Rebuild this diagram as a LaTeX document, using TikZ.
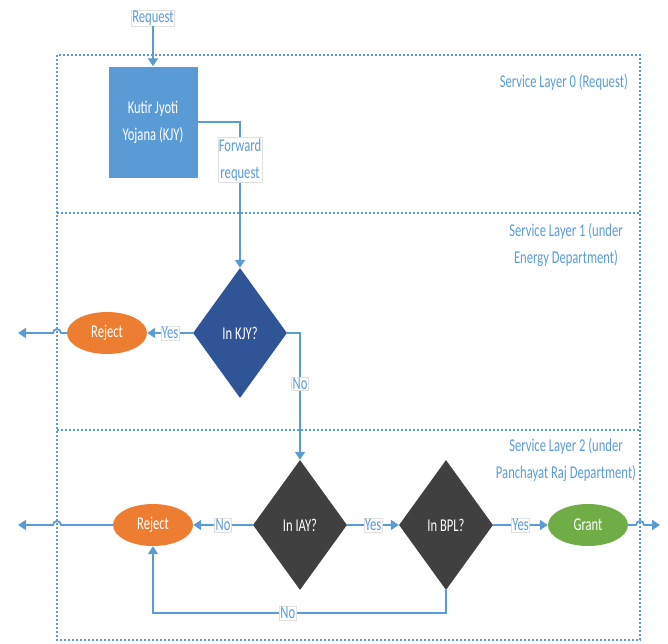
\documentclass[tikz,border=0pt]{standalone}
\usepackage{fontspec}
\setmainfont{Carlito}[FakeStretch=0.7]
\usetikzlibrary{arrows.meta, shapes.geometric, positioning}

\definecolor{lineblue}{HTML}{5B9BD5}
\definecolor{kjyblue}{HTML}{2F5597}
\definecolor{askgray}{HTML}{404040}
\definecolor{rejorange}{HTML}{ED7D31}
\definecolor{okgreen}{HTML}{70AD47}
\newcommand\flowfont{\fontsize{18}{27}\selectfont}

\tikzset{
  conn/.style={draw=lineblue, line width=1.8pt},
  flow/.style={conn, -{Triangle[length=8pt,width=10pt]}},
  layer/.style={draw=lineblue, line width=2.2pt, dash pattern=on 2pt off 2pt},
  tag/.style={fill=white, draw=black!12, line width=0.5pt, text=lineblue, inner sep=1pt, font=\flowfont},
  laytext/.style={text=lineblue, align=center, inner sep=0pt, font=\flowfont},
  decide/.style={diamond, minimum width=94pt, minimum height=130pt, inner sep=0pt, text=white, font=\flowfont},
  endbox/.style={ellipse, minimum width=80pt, minimum height=42pt, inner sep=0pt, text=white, font=\flowfont},
}

\begin{document}
\begin{tikzpicture}[x=1pt, y=-1pt]
  \useasboundingbox (0,0) rectangle (668,643);

  % Service layers
  \draw [layer] (57,55) rectangle (640,640);
  \draw [layer] (57,213) -- (640,213);
  \draw [layer] (57,430) -- (640,430);
  \node [laytext, anchor=east] (lay0) at (628,82) {Service Layer 0 (Request)};
  \node [laytext] (lay1) at (566,245) {Service Layer 1 (under\\Energy Department)};
  \node [laytext] (lay2) at (566,460) {Service Layer 2 (under\\Panchayat Raj Department)};

  % Nodes
  \node [tag] (req) at (153,18) {Request};
  \node [fill=lineblue, minimum width=89pt, minimum height=111pt, inner sep=0pt,
         text=white, align=center, font=\flowfont] (kjy) at (153,122) {Kutir Jyoti\\Yojana (KJY)};
  \node [decide, fill=kjyblue] (qkjy) at (240,333) {In KJY?};
  \node [endbox, fill=rejorange] (rejA) at (107,333) {Reject};
  \node [decide, fill=askgray] (qiay) at (300,525) {In IAY?};
  \node [decide, fill=askgray] (qbpl) at (446,525) {In BPL?};
  \node [endbox, fill=okgreen] (grant) at (588,525) {Grant};
  \node [endbox, fill=rejorange] (rejB) at (153,525) {Reject};

  \coordinate (outA) at (18,333);
  \coordinate (outB) at (18,525);
  \coordinate (outG) at (660,525);

  % Connect the steps
  \draw [flow] (req) -- (kjy);
  \draw [flow] (kjy.east) -| node [tag, pos=0.63, align=center] {Forward\\request} (qkjy.north);
  \draw [flow] (qkjy.west) -- node [tag] {Yes} (rejA.east);
  \draw [flow] (qkjy.east) -| node [tag, pos=0.7] {No} (qiay.north);
  \draw [flow] (qiay.west) -- node [tag] {No} (rejB.east);
  \draw [flow] (qiay.east) -- node [tag] {Yes} (qbpl.west);
  \draw [flow] (qbpl.east) -- node [tag] {Yes} (grant.west);
  \draw [flow] (qbpl.south) -- ++(0,23) -| node [tag, pos=0.27] {No} (rejB.south);

  % Leave the layers, hopping over the border
  \draw [flow] (rejA.west) -- (61,333) arc [start angle=0, end angle=180, radius=4pt] -- (outA);
  \draw [flow] (rejB.west) -- (61,525) arc [start angle=0, end angle=180, radius=4pt] -- (outB);
  \draw [flow] (grant.east) -- (636,525) arc [start angle=180, end angle=0, radius=4pt] -- (outG);
\end{tikzpicture}
\end{document}
